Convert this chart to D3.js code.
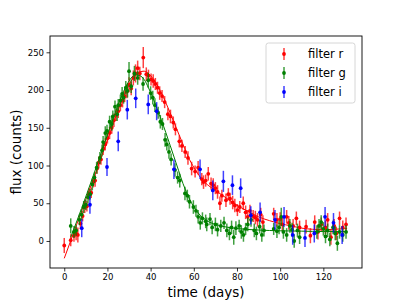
<!DOCTYPE html>
<html>
<head>
<meta charset="utf-8">
<script src="https://cdn.jsdelivr.net/npm/d3@7"></script>
<style>
  body { margin: 0; background: #fff; }
  svg { display: block; font-family: "DejaVu Sans", sans-serif; }
</style>
</head>
<body>
<svg width="403" height="302"></svg>
<script>
// observations: [time, flux, error]
const rData = [
  [0,-6,10],[3,1,8],[4.5,7,8],[5.5,10,9],[6.3,8,10],[7.5,23,7],[8.5,33,7],[9.5,45,8],
  [10.5,46,7],[11.5,62,8],[12.5,64,7],[13.5,78,7],[14.3,80,8],[15.2,96,7],[16,104,8],
  [17,108,7],[18,122,8],[19,128,8],[20,136,7],[21,143,8],[22,150,8],[23,160,9],
  [24,167,8],[25,172,9],[26,180,8],[27,186,9],[28,192,8],[29,198,9],[30,207,10],
  [31,202,9],[32,216,10],[33,222,12],[34,229,10],[35,222,9],[36.6,243,14],[38,221,9],
  [39,219,8],[40.2,214,8],[41.2,212,9],[42.2,208,8],[43.2,203,8],[44.2,196,9],
  [45.3,192,8],[46.5,184,8],[48,168,8],[49.2,165,9],[50.5,157,8],[51.5,148,8],
  [53.3,132,8],[54.5,126,8],[56,118,8],[57.3,110,9],[59,96,9],[60.6,92,8],[62,97,9],
  [63.7,82,8],[64.5,78,9],[65.5,80,8],[66.7,89,9],[68,76,8],[69,74,9],[70,70,8],
  [71,65,9],[72.1,50,9],[73,60,8],[74.9,54,9],[76,62,8],[76.8,56,8],[78,51,9],
  [79,47,9],[80.2,41,8],[81.3,45,8],[82.9,50,9],[84,38,9],[85,32,9],[86,40,8],
  [87.5,33,8],[88.5,31,9],[89.5,28,9],[91,35,9],[92,25,9],[97,36,8],[98.5,28,9],
  [100,29,9],[101,22,9],[103,32,9],[104,24,9],[106,20,9],[107.5,30,9],[109,18,9],
  [112,19,9],[114,7,10],[116,25,9],[117.5,12,10],[119,22,9],[121,18,9],[122,28,9],
  [123.5,5,10],[125,20,9],[126,10,9],[127.5,30,9],[129,18,9],[130.5,22,9]
];
const gData = [
  [3,20,10],[4.5,12,8],[5.5,14,7],[7,28,7],[8,35,7],[9,45,8],[10,48,7],[11,58,8],
  [12,62,7],[13,75,8],[14,84,7],[15,97,8],[16.5,110,8],[17.5,120,8],[18,131,8],
  [19,143,9],[19.8,146,8],[21,158,8],[22,155,9],[22.5,165,8],[23.5,178,8],
  [24.5,168,9],[25,180,8],[26,186,8],[26.8,195,9],[27.5,190,8],[28.5,203,9],
  [29.3,199,9],[30,225,12],[31,205,9],[32.5,222,10],[34,216,9],[36.5,208,9],
  [38.9,213,10],[40,196,9],[41,190,9],[42,180,9],[43.5,170,8],[44.5,158,9],
  [45.5,155,8],[46.7,134,9],[47.5,128,8],[48.5,118,9],[49.5,108,8],[51.3,94,9],
  [52.5,84,8],[53.5,80,9],[55.9,63,9],[57,60,8],[58,52,9],[59.8,45,9],[61,40,8],
  [62,32,9],[63,24,9],[64,30,8],[65.5,26,9],[66,22,9],[67.5,29,8],[68.5,18,9],
  [70,22,9],[71,15,9],[72.5,20,8],[74,24,8],[75.3,14,9],[76.5,10,9],[77.5,18,9],
  [78.5,5,10],[79.5,17,9],[81,20,8],[82,12,9],[83,8,9],[84,16,8],[85,22,9],
  [86.5,28,9],[88,14,9],[89,10,9],[90.5,19,9],[91.5,8,9],[92.5,14,8],[97,16,8],
  [98.5,13,9],[99.5,18,9],[100.5,32,12],[101.5,12,9],[103,8,9],[104.5,20,9],
  [105.5,15,9],[106.5,0,9],[108,14,9],[109,5,9],[117,12,9],[118,20,9],[119,25,9],
  [120,16,9],[121,6,9],[122,14,9],[123,2,9],[124.5,18,9],[125.5,10,9],[126.5,-3,10],
  [127.5,12,9],[129,8,9],[130.5,12,9]
];
const iData = [
  [8.1,17,12],[11.9,48,12],[19.8,98,12],[25,132,13],[29.2,174,13],[33.1,189,13],
  [38.9,181,13],[42.8,172,12],[50.8,95,13],[62.9,95,13],[68.8,67,13],[73.7,79,14],
  [77.9,74,13],[81.7,70,13],[86.4,34,12],[90.7,38,13],[97.6,28,13],[101.8,32,13],
  [105.8,8,13],[111.5,4,12],[115.8,10,12],[120.8,32,13],[124.7,24,13],[128.7,8,12]
];

// fitted model curves: [time, flux]
const rModel = [
  [0,-23],[5,16],[10,55],[15,94],[20,134],[24,166],[27,188],[30,207],[33,220],[35,224],
  [37,225],[40,219],[43,207],[46,190],[49,170],[52,149],[55,128],[58,108],[61,93],
  [64,81],[67,73],[70,67],[74,59],[78,51],[82,44],[86,38],[90,32],[95,27],[100,23],
  [105,20],[110,17],[115,15.5],[120,15],[125,15.5],[131,16.5]
];
const gModel = [
  [3,5],[8,43],[13,83],[18,124],[22,157],[26,188],[29,207],[31,216],[33,220],[35,219],
  [37,214],[39,203],[41,190],[43,175],[45,160],[47,144],[49,127],[51,110],[53,93],
  [55,76],[57,62],[59,50],[61,41],[63,34],[66,27],[70,22],[75,18.5],[80,16.5],
  [90,14.5],[100,13.5],[110,13],[120,12.5],[131,12.5]
];

const xTicks = [0, 20, 40, 60, 80, 100, 120];
const yTicks = [0, 50, 100, 150, 200, 250];
const filters = ["filter r", "filter g", "filter i"];
const colors = ["#ff0000", "#008000", "#0000ff"];

const svg = d3.select("svg");
const plot = { left: 50, right: 362, top: 36, bottom: 268 };

const x = d3.scaleLinear().domain([-6.6, 137.9]).range([plot.left, plot.right]);
const y = d3.scaleLinear().domain([-35.8, 271.6]).range([plot.bottom, plot.top]);

const line = d3.line().x(d => x(d[0])).y(d => y(d[1])).curve(d3.curveMonotoneX);

function drawSeries(data, model, color) {
  const g = svg.append("g");
  g.selectAll("line")
    .data(data)
    .enter().append("line")
      .attr("x1", d => x(d[0]))
      .attr("x2", d => x(d[0]))
      .attr("y1", d => y(d[1] - d[2]))
      .attr("y2", d => y(d[1] + d[2]))
      .attr("stroke", color)
      .attr("stroke-width", 1.5)
      .attr("stroke-opacity", 0.75);
  g.selectAll("circle")
    .data(data)
    .enter().append("circle")
      .attr("cx", d => x(d[0]))
      .attr("cy", d => y(d[1]))
      .attr("r", 1.9)
      .attr("fill", color);
  if (model) {
    g.append("path")
      .attr("d", line(model))
      .attr("fill", "none")
      .attr("stroke", color)
      .attr("stroke-width", 1);
  }
}

drawSeries(rData, rModel, colors[0]);
drawSeries(gData, gModel, colors[1]);
drawSeries(iData, null, colors[2]);

// axes
const xAxis = svg.append("g")
  .attr("transform", `translate(0,${plot.bottom})`)
  .call(d3.axisBottom(x).tickValues(xTicks).tickSize(3.5).tickPadding(2.5));
const yAxis = svg.append("g")
  .attr("transform", `translate(${plot.left},0)`)
  .call(d3.axisLeft(y).tickValues(yTicks).tickSize(3.5).tickPadding(2.5));

[xAxis, yAxis].forEach(a => {
  a.select(".domain").remove();
  a.selectAll("text")
    .attr("font-family", "DejaVu Sans")
    .attr("font-size", 8.5)
    .attr("fill", "#000");
  a.selectAll(".tick line").attr("stroke", "#000").attr("stroke-width", 0.8);
});

// frame
svg.append("rect")
  .attr("x", plot.left)
  .attr("y", plot.top)
  .attr("width", plot.right - plot.left)
  .attr("height", plot.bottom - plot.top)
  .attr("fill", "none")
  .attr("stroke", "#000")
  .attr("stroke-width", 0.9);

// axis labels
svg.append("text")
  .attr("x", (plot.left + plot.right) / 2)
  .attr("y", 297)
  .attr("text-anchor", "middle")
  .attr("font-size", 13.5)
  .text("time (days)");

svg.append("text")
  .attr("transform", `translate(21,${(plot.top + plot.bottom) / 2}) rotate(-90)`)
  .attr("text-anchor", "middle")
  .attr("font-size", 13.5)
  .text("flux (counts)");

// legend
const legend = svg.append("g").attr("transform", "translate(266,43)");
legend.append("rect")
  .attr("width", 89)
  .attr("height", 60)
  .attr("rx", 2.5)
  .attr("fill", "#fff")
  .attr("fill-opacity", 0.8)
  .attr("stroke", "#cccccc")
  .attr("stroke-width", 0.8);

filters.forEach((name, i) => {
  const cy = 11 + i * 19;
  legend.append("line")
    .attr("x1", 18).attr("x2", 18)
    .attr("y1", cy - 6).attr("y2", cy + 6)
    .attr("stroke", colors[i])
    .attr("stroke-width", 1.5)
    .attr("stroke-opacity", 0.75);
  legend.append("circle")
    .attr("cx", 18).attr("cy", cy)
    .attr("r", 1.9)
    .attr("fill", colors[i]);
  legend.append("text")
    .attr("x", 42)
    .attr("y", cy)
    .attr("dy", "0.35em")
    .attr("font-size", 11.5)
    .text(name);
});
</script>
</body>
</html>
